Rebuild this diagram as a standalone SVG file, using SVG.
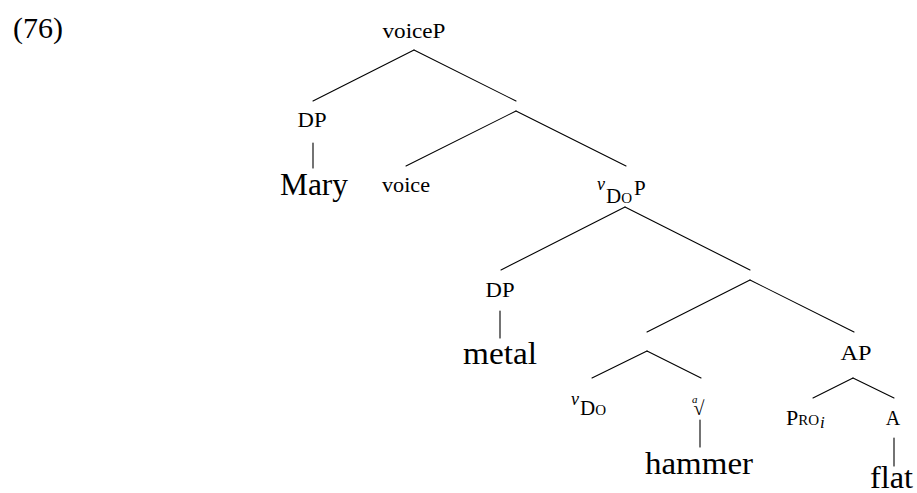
<svg xmlns="http://www.w3.org/2000/svg" width="917" height="493" viewBox="0 0 917 493">
<style>
text{font-family:"Liberation Serif","Times New Roman",serif;fill:#000}
.lab{font-size:20px;text-anchor:middle}
.word{font-size:32px;text-anchor:middle}
.sc{font-variant:small-caps}
.it{font-style:italic}
line{stroke:#000;stroke-width:1.1;stroke-linecap:round}
</style>
<rect width="917" height="493" fill="#fff"/>
<text x="13" y="38" font-size="30">(76)</text>
<g id="connectors">
<line x1="414" y1="50" x2="313" y2="101"/>
<line x1="414" y1="50" x2="516" y2="101"/>
<line x1="313" y1="143" x2="313" y2="168"/>
<line x1="516" y1="111" x2="406" y2="166"/>
<line x1="516" y1="111" x2="626" y2="166"/>
<line x1="625" y1="207" x2="501" y2="270"/>
<line x1="625" y1="207" x2="750" y2="270"/>
<line x1="500" y1="311" x2="500" y2="338"/>
<line x1="750" y1="280" x2="647" y2="332"/>
<line x1="750" y1="280" x2="854" y2="332"/>
<line x1="647" y1="351" x2="592" y2="378"/>
<line x1="647" y1="351" x2="701" y2="378"/>
<line x1="700" y1="420" x2="700" y2="447"/>
<line x1="853" y1="378" x2="813" y2="398"/>
<line x1="853" y1="378" x2="894" y2="398"/>
<line x1="894" y1="438" x2="894" y2="466"/>
</g>
<g id="voiceP"><text class="lab" x="414" y="38" textLength="63" lengthAdjust="spacingAndGlyphs">voiceP</text></g>
<g id="dp1"><text class="lab" x="312" y="127" textLength="29" lengthAdjust="spacingAndGlyphs">DP</text></g>
<g id="mary"><text class="word" x="314" y="195" textLength="68" lengthAdjust="spacingAndGlyphs">Mary</text></g>
<g id="voice"><text class="lab" x="406" y="192" textLength="48" lengthAdjust="spacingAndGlyphs">voice</text></g>
<g id="vDoP"><text x="597" y="190" font-size="18" class="it">v<tspan dx="1" dy="13" font-size="21" font-style="normal" class="sc">Do</tspan><tspan dx="2" dy="-8" font-size="21" font-style="normal">P</tspan></text></g>
<g id="dp2"><text class="lab" x="500" y="297" textLength="29" lengthAdjust="spacingAndGlyphs">DP</text></g>
<g id="metal"><text class="word" x="500" y="364" textLength="74" lengthAdjust="spacingAndGlyphs">metal</text></g>
<g id="AP"><text class="lab" x="856" y="360" textLength="31" lengthAdjust="spacingAndGlyphs">AP</text></g>
<g id="vDo"><text x="571" y="405" font-size="18" class="it">v<tspan dx="1" dy="10" font-size="21" font-style="normal" class="sc">Do</tspan></text></g>
<g id="root"><text x="692" y="403" font-size="11" class="it">a<tspan dx="-4" dy="12" font-size="20" font-style="normal">√</tspan></text></g>
<g id="hammer"><text class="word" x="699" y="474" textLength="108" lengthAdjust="spacingAndGlyphs">hammer</text></g>
<g id="pro"><text x="786" y="425" font-size="22" class="sc">Pro<tspan dx="1" dy="3" font-size="17" class="it" font-variant="normal">i</tspan></text></g>
<g id="A"><text class="lab" x="893" y="425">A</text></g>
<g id="flat"><text class="word" x="870" y="488" style="text-anchor:start" textLength="43" lengthAdjust="spacingAndGlyphs">flat</text></g>
</svg>
